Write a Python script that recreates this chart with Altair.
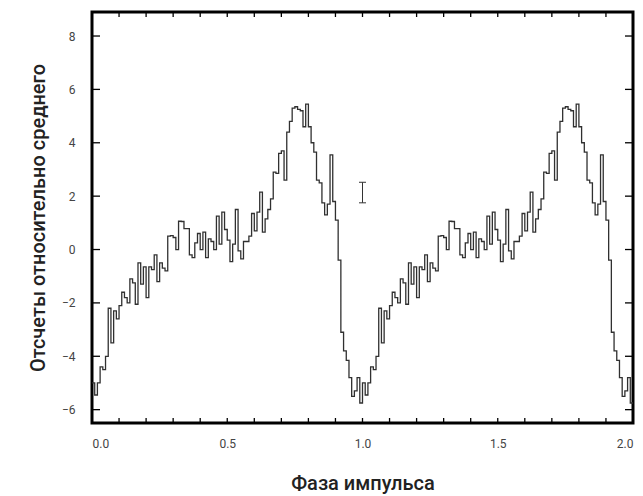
import altair as alt
import pandas as pd

# Folded pulse profile: counts relative to mean, 100 phase bins per cycle
profile = [
    -5.0, -5.45, -5.0, -4.4, -4.5, -4.0, -2.2, -3.5, -2.3, -2.6,
    -2.1, -1.6, -1.8, -2.0, -1.1, -1.25, -2.05, -0.5, -1.3, -0.65,
    -1.8, -0.65, -0.75, -0.2, -1.2, -0.5, -0.7, -0.8, 0.5, 0.52,
    0.45, 0.0, 1.06, 1.05, 0.78, 0.78, -0.2, -0.3, 0.25, 0.6,
    0.0, 0.65, -0.3, 0.4, 0.3, 0.0, 1.25, 0.2, 1.4, 0.75,
    0.35, -0.45, 0.2, 1.5, -0.05, -0.35, 0.3, 0.3, 0.5, 1.35,
    0.7, 1.4, 2.15, 0.65, 1.15, 1.5, 1.9, 2.9, 2.85, 3.6,
    3.7, 2.6, 4.4, 4.8, 5.3, 5.35, 5.25, 5.2, 4.6, 5.45,
    4.6, 4.0, 3.65, 2.6, 2.5, 1.75, 1.3, 1.7, 3.55, 1.8,
    1.1, -0.4, -3.1, -3.8, -4.15, -4.8, -5.5, -5.3, -4.8, -5.75,
]
n_bins = 100
n_cycles = 2

# typical error bar
err_phase = [1.0]
err_low = [1.75]
err_high = [2.52]

x_ticks = [round(i * 0.1, 1) for i in range(1, 20)]
x_labels = [0.0, 0.5, 1.0, 1.5, 2.0]
y_ticks = [-6, -4, -2, 0, 2, 4, 6, 8]

W, H = 541, 411

phases, vals = [], []
for c in range(n_cycles):
    for i, v in enumerate(profile):
        phases.append(c + i / n_bins)
        vals.append(v)
phases.append(float(n_cycles))
vals.append(profile[-1])
df = pd.DataFrame({"phase": phases, "counts": vals})

xscale = alt.Scale(domain=[0, 2], nice=False, zero=False)
yscale = alt.Scale(domain=[-6.5, 8.9], nice=False, zero=False)

font = "Roboto"

xaxis = alt.Axis(
    values=x_labels, format=".1f", ticks=False, tickSize=0,
    domain=False, grid=False, labelFont=font, labelFontSize=12,
    labelColor="#444444", labelPadding=20, labelBaseline="middle",
    labelAlign={"condition": [{"test": "datum.value == 0", "value": "left"},
                              {"test": "datum.value == 2", "value": "right"}],
                "value": "center"},
    labelFlush=False,
    title="Фаза импульса", titleFont=font, titleFontSize=20, titleFontWeight=500,
    titleColor="#222222", titleX=W / 2, titleY=66, titleBaseline="alphabetic",
    titleAlign="center",
)
yaxis = alt.Axis(
    values=y_ticks, ticks=False, tickSize=0, domain=False, grid=False,
    labelFont=font, labelFontSize=12, labelColor="#444444", labelPadding=17,
    labelAlign="right", labelBaseline="middle",
    title="Отсчеты относительно среднего", titleFont=font, titleFontSize=20,
    titleFontWeight=500, titleColor="#222222", titleX=-54, titleY=H / 2,
    titleAngle=270, titleAlign="center", titleBaseline="middle",
)

line = alt.Chart(df).mark_line(interpolate="step-after", color="#303030", strokeWidth=1.3).encode(
    x=alt.X("phase:Q", scale=xscale, axis=xaxis),
    y=alt.Y("counts:Q", scale=yscale, axis=yaxis),
)

xt = pd.DataFrame({"t": x_ticks})
yt = pd.DataFrame({"t": y_ticks})

bottom_ticks = alt.Chart(xt).mark_rule(color="black", strokeWidth=1.3).encode(
    x=alt.X("t:Q", scale=xscale, axis=xaxis), y=alt.value(H), y2=alt.value(H - 5)
)
top_ticks = alt.Chart(xt).mark_rule(color="black", strokeWidth=1.3).encode(
    x=alt.X("t:Q", scale=xscale, axis=xaxis), y=alt.value(0), y2=alt.value(5)
)
left_ticks = alt.Chart(yt).mark_rule(color="black", strokeWidth=1.3).encode(
    y=alt.Y("t:Q", scale=yscale, axis=yaxis), x=alt.value(0), x2=alt.value(8)
)
right_ticks = alt.Chart(yt).mark_rule(color="black", strokeWidth=1.3).encode(
    y=alt.Y("t:Q", scale=yscale, axis=yaxis), x=alt.value(W), x2=alt.value(W - 8)
)

edf = pd.DataFrame({"ex": err_phase, "lo": err_low, "hi": err_high})
err_v = alt.Chart(edf).mark_rule(color="#333333", strokeWidth=1).encode(
    x=alt.X("ex:Q", scale=xscale, axis=xaxis),
    y=alt.Y("lo:Q", scale=yscale, axis=yaxis), y2="hi:Q",
)
err_lo = alt.Chart(edf).mark_rule(color="#333333", strokeWidth=1, xOffset=-3.5, x2Offset=3.5).encode(
    x=alt.X("ex:Q", scale=xscale, axis=xaxis), x2="ex:Q",
    y=alt.Y("lo:Q", scale=yscale, axis=yaxis),
)
err_hi = alt.Chart(edf).mark_rule(color="#333333", strokeWidth=1, xOffset=-3.5, x2Offset=3.5).encode(
    x=alt.X("ex:Q", scale=xscale, axis=xaxis), x2="ex:Q",
    y=alt.Y("hi:Q", scale=yscale, axis=yaxis),
)

chart = alt.layer(
    line, bottom_ticks, top_ticks, left_ticks, right_ticks, err_v, err_lo, err_hi
).properties(
    width=W, height=H,
    autosize=alt.AutoSizeParams(type="none"),
    padding={"left": 84, "top": 4, "right": 2, "bottom": 78},
    background="white",
).configure_view(stroke="black", strokeWidth=3)

chart.save("out.html", embed_options={"renderer": "svg", "actions": False})
